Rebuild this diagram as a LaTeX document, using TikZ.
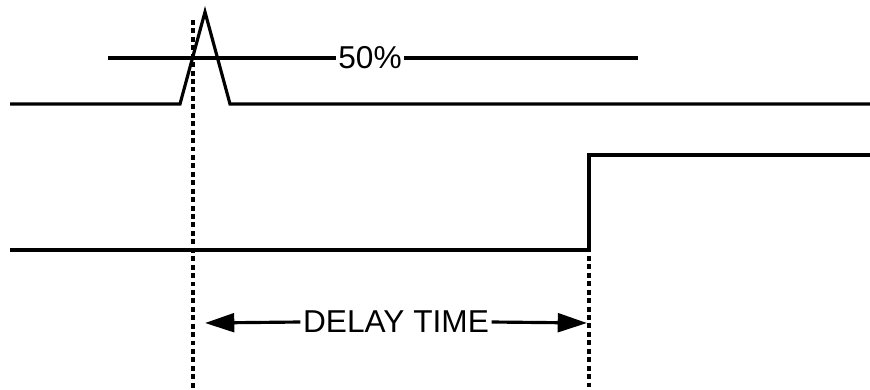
\documentclass[tikz,border=0pt]{standalone}
\usepackage{fontspec}
\setmainfont{Liberation Sans}
\usetikzlibrary{arrows.meta,positioning}

\begin{document}
\begin{tikzpicture}[x=0.03cm,y=-0.03cm,line width=2.7pt]
    \tikzset{signal/.style={draw,line join=miter},
             dotline/.style={line width=2.6pt,dash pattern=on 4.2pt off 3pt},
             lbl/.style={inner sep=1pt,font=\fontsize{27}{27}\selectfont},
             delaytip/.style={-{Triangle[length=25pt,width=16pt]}}}
    \useasboundingbox (0,0) rectangle (870,389);
    % input pulse and output step
    \coordinate (inA) at (10,104);
    \coordinate (inB) at (180,104);
    \coordinate (inP) at (205,12);
    \coordinate (inC) at (230,104);
    \coordinate (inD) at (870,104);
    \coordinate (outA) at (10,250);
    \coordinate (outB) at (589,250);
    \coordinate (outC) at (589,155);
    \coordinate (outD) at (870,155);
    \draw[signal] (inA) -- (inB) -- (inP) -- (inC) -- (inD);
    \draw[signal] (outA) -- (outB) -- (outC) -- (outD);
    % 50% level
    \node[lbl] (half) at (370,58) {50\%};
    \coordinate (halfL) at (108,58);
    \coordinate (halfR) at (638,58);
    \draw (halfL) -- (half.west);
    \draw (half.east) -- (halfR);
    % markers
    \coordinate (mkA) at (193,20);
    \coordinate (mkB) at (193,389);
    \coordinate (mkC) at (589,256);
    \coordinate (mkD) at (589,389);
    \draw[dotline] (mkA) -- (mkB);
    \draw[dotline] (mkC) -- (mkD);
    % delay
    \node[lbl] (delay) at (396,322) {DELAY TIME};
    \coordinate (dL) at (205,323);
    \coordinate (dR) at (587,323);
    \draw[delaytip] (delay.west) -- (dL);
    \draw[delaytip] (delay.east) -- (dR);
\end{tikzpicture}
\end{document}
